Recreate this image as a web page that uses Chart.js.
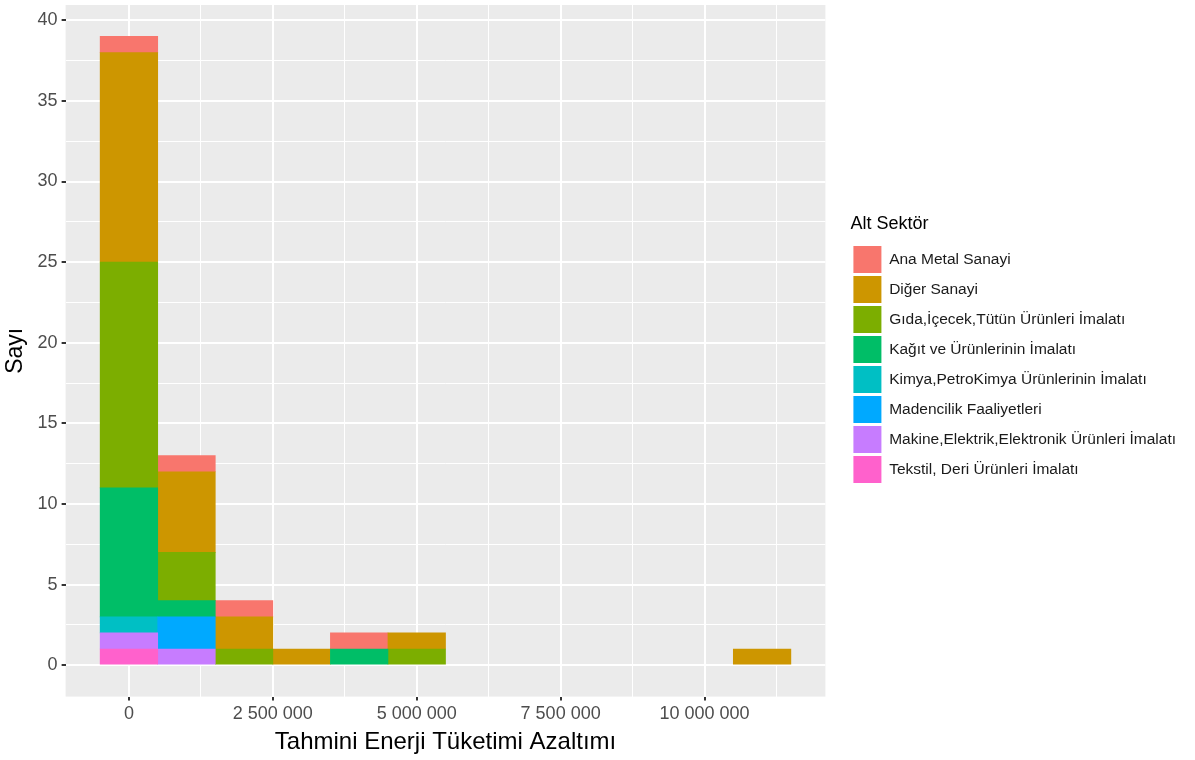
<!DOCTYPE html>
<html>
<head>
<meta charset="utf-8">
<script src="https://cdn.jsdelivr.net/npm/chart.js@4"></script>
<style>
  html, body { margin: 0; padding: 0; background: #fff; }
  #wrap { width: 1195px; height: 760px; }
</style>
</head>
<body>
<div id="wrap"><canvas id="histChart" width="1195" height="760"></canvas></div>
<script>
// bin merkezleri (genişlik 1 000 000)
const bins = [0, 1000000, 2000000, 3000000, 4000000, 5000000, 11000000];

// alt sektörler (lejant sırası)
const sectors = [
  'Ana Metal Sanayi',
  'Diğer Sanayi',
  'Gıda,İçecek,Tütün Ürünleri İmalatı',
  'Kağıt ve Ürünlerinin İmalatı',
  'Kimya,PetroKimya Ürünlerinin İmalatı',
  'Madencilik Faaliyetleri',
  'Makine,Elektrik,Elektronik Ürünleri İmalatı',
  'Tekstil, Deri Ürünleri İmalatı'
];
const colors = ['#F8766D', '#CD9600', '#7CAE00', '#00BE67', '#00BFC4', '#00A9FF', '#C77CFF', '#FF61CC'];

// her binde sayılar
const anaMetal   = [1, 1, 1, 0, 1, 0, 0];
const diger      = [13, 5, 2, 1, 0, 1, 1];
const gida       = [14, 3, 1, 0, 0, 1, 0];
const kagit      = [8, 1, 0, 0, 1, 0, 0];
const kimya      = [1, 0, 0, 0, 0, 0, 0];
const madencilik = [0, 2, 0, 0, 0, 0, 0];
const makine     = [1, 1, 0, 0, 0, 0, 0];
const tekstil    = [1, 0, 0, 0, 0, 0, 0];
const counts = [anaMetal, diger, gida, kagit, kimya, madencilik, makine, tekstil];

// eksen çizgileri
const xMajor = [0, 2500000, 5000000, 7500000, 10000000];
const xMinor = [1250000, 3750000, 6250000, 8750000, 11250000];
const yMajor = [0, 5, 10, 15, 20, 25, 30, 35, 40];
const yMinor = [2.5, 7.5, 12.5, 17.5, 22.5, 27.5, 32.5, 37.5];

const FONT = '"Liberation Sans", Arial, sans-serif';
const fmt = v => String(v).replace(/\B(?=(\d{3})+(?!\d))/g, ' ');

// ggplot gibi: ilk seviye en üstte -> ters sırayla yığ
// (0 olanlar null: ince çizgi çizilmesin)
const datasets = sectors.map((name, i) => ({
  label: name,
  data: bins.map((b, j) => ({ x: b, y: counts[i][j] || null })),
  backgroundColor: colors[i],
  borderWidth: 0,
  barPercentage: 1,
  categoryPercentage: 1
})).reverse();

const panelBg = {
  id: 'panelBg',
  beforeDraw(chart) {
    const { ctx, chartArea: a } = chart;
    ctx.save();
    ctx.fillStyle = '#EBEBEB';
    ctx.fillRect(a.left, a.top, a.right - a.left, a.bottom - a.top);
    ctx.restore();
  }
};

// lejantı panelden biraz uzaklaştır
const legendGap = {
  id: 'legendGap',
  afterLayout(chart) {
    const lg = chart.legend;
    const shift = chart.chartArea.right + 25 - lg.left;
    lg.left += shift;
    lg.right += shift;
  }
};

const tickVal = c => (c && c.tick) ? c.tick.value : NaN;
const isMajorX = v => xMajor.includes(v);
const isMajorY = v => yMajor.includes(v);

new Chart(document.getElementById('histChart').getContext('2d'), {
  type: 'bar',
  data: { datasets },
  plugins: [panelBg, legendGap],
  options: {
    responsive: false,
    animation: false,
    layout: { padding: { top: 5, right: 34, left: 2, bottom: 3 } },
    font: { family: FONT },
    scales: {
      x: {
        type: 'linear',
        stacked: true,
        offset: false,
        min: -1100000,
        max: 12100000,
        afterBuildTicks: s => { s.ticks = xMajor.concat(xMinor).sort((a, b) => a - b).map(v => ({ value: v })); },
        border: { display: false },
        grid: {
          offset: false,
          color: '#FFFFFF',
          lineWidth: c => isMajorX(tickVal(c)) ? 2 : 1,
          tickColor: c => isMajorX(tickVal(c)) ? '#333333' : 'rgba(0,0,0,0)',
          tickLength: 4
        },
        ticks: {
          autoSkip: false,
          maxRotation: 0,
          padding: 3,
          color: '#4D4D4D',
          font: { size: 18, family: FONT },
          callback: v => isMajorX(v) ? fmt(v) : ''
        },
        title: {
          display: true,
          text: 'Tahmini Enerji Tüketimi Azaltımı',
          color: '#000',
          font: { size: 24, family: FONT },
          padding: { top: 0, bottom: 0 }
        }
      },
      y: {
        stacked: true,
        min: -1.95,
        max: 40.95,
        afterBuildTicks: s => { s.ticks = yMajor.concat(yMinor).sort((a, b) => a - b).map(v => ({ value: v })); },
        afterFit: s => { s.paddingTop = 0; },
        border: { display: false },
        grid: {
          color: '#FFFFFF',
          lineWidth: c => isMajorY(tickVal(c)) ? 2 : 1,
          tickColor: c => isMajorY(tickVal(c)) ? '#333333' : 'rgba(0,0,0,0)',
          tickLength: 4
        },
        ticks: {
          autoSkip: false,
          padding: 4,
          color: '#4D4D4D',
          font: { size: 18, family: FONT },
          callback: v => isMajorY(v) ? String(v) : ''
        },
        title: {
          display: true,
          text: 'Sayı',
          color: '#000',
          font: { size: 23, family: FONT },
          padding: { top: 0, bottom: 4 }
        }
      }
    },
    plugins: {
      tooltip: { enabled: false },
      legend: {
        position: 'right',
        fullSize: false,
        reverse: true,
        align: 'center',
        maxWidth: 420,
        title: {
          display: true,
          text: 'Alt Sektör',
          color: '#000',
          position: 'start',
          font: { size: 18, family: FONT },
          padding: { top: 0, bottom: 6 }
        },
        labels: {
          boxWidth: 28,
          boxHeight: 27,
          padding: 3,
          color: '#1a1a1a',
          font: { size: 15.5, family: FONT }
        }
      }
    }
  }
});
</script>
</body>
</html>
